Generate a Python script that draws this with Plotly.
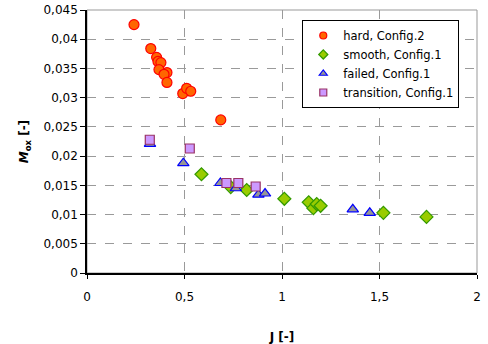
import plotly.graph_objects as go

hard_J = [0.241, 0.327, 0.357, 0.364, 0.379, 0.369, 0.410, 0.395, 0.410, 0.491, 0.511, 0.532, 0.686]
hard_M = [0.0425, 0.0384, 0.0369, 0.0362, 0.0360, 0.0348, 0.0343, 0.0340, 0.0326, 0.0307, 0.0316, 0.0311, 0.0262]

smooth_J = [0.587, 0.737, 0.819, 1.012, 1.137, 1.161, 1.178, 1.198, 1.520, 1.741]
smooth_M = [0.0169, 0.0147, 0.0142, 0.0127, 0.0121, 0.0111, 0.0118, 0.0115, 0.0103, 0.0096]

failed_J = [0.323, 0.494, 0.684, 0.763, 0.879, 0.913, 1.363, 1.450]
failed_M = [0.0221, 0.0188, 0.0154, 0.0145, 0.0134, 0.0136, 0.0109, 0.0103]

trans_J = [0.322, 0.527, 0.715, 0.776, 0.865]
trans_M = [0.0228, 0.0213, 0.0154, 0.0154, 0.0148]

x_ticks = [0, 0.5, 1, 1.5, 2]
y_ticks = [0, 0.005, 0.01, 0.015, 0.02, 0.025, 0.03, 0.035, 0.04, 0.045]

series = [
    ("hard, Config.2", hard_J, hard_M, "circle", 10, "#FF6600", "#FF0000"),
    ("smooth, Config.1", smooth_J, smooth_M, "diamond", 10, "#99CC00", "#339900"),
    ("failed, Config.1", failed_J, failed_M, "triangle-up", 10, "#969696", "#0000FF"),
    ("transition, Config.1", trans_J, trans_M, "square", 9, "#CC99FF", "#993366"),
]

fig = go.Figure()
for i, (name, xs, ys, sym, size, fill, edge) in enumerate(series):
    fig.add_trace(go.Scatter(x=xs, y=ys, mode="markers", name=name, showlegend=False,
                             marker=dict(symbol=sym, size=size, color=fill,
                                         line=dict(color=edge, width=1.2))))
for i, (name, xs, ys, sym, size, fill, edge) in enumerate(series):
    # legend-only entries with smaller symbols, as in the reference legend
    fig.add_trace(go.Scatter(x=[None], y=[None], mode="markers", name=name,
                             legendgroup=f"g{i}", showlegend=True,
                             marker=dict(symbol=sym, size=7, color=fill,
                                         line=dict(color=edge, width=1.2))))

fig.add_shape(type="rect", xref="paper", yref="paper", x0=0, x1=1, y0=0, y1=1,
              line=dict(color="#999999", width=1), layer="below")

fig.update_layout(
    width=488, height=344,
    margin=dict(l=87, r=11, t=10, b=71, autoexpand=False),
    paper_bgcolor="white", plot_bgcolor="white",
    separators=", ",
    font=dict(family="DejaVu Sans", size=12, color="black"),
    showlegend=True,
    legend=dict(x=0.552, y=0.962, xanchor="left", yanchor="top",
                bgcolor="white", bordercolor="black", borderwidth=1,
                font=dict(family="DejaVu Sans", size=11.5, color="black"),
                itemsizing="trace", tracegroupgap=10, traceorder="normal"),
    xaxis=dict(range=[0, 2], tickvals=x_ticks, showgrid=True, gridcolor="#9a9a9a",
               griddash="dash", gridwidth=1, showline=True, linecolor="black", linewidth=1.5,
               ticks="outside", ticklen=4, tickcolor="black", zeroline=False,
               ticklabelstandoff=8, automargin=False,
               title=dict(text="<b>J [-]</b>", font=dict(size=12), standoff=32)),
    yaxis=dict(range=[0, 0.045], tickvals=y_ticks, showgrid=True, gridcolor="#9a9a9a",
               griddash="dash", gridwidth=1, showline=True, linecolor="black", linewidth=1.5,
               ticks="outside", ticklen=5, tickcolor="black", zeroline=False,
               automargin=False,
               title=dict(text="<b><i>M</i><sub>ox</sub> [-]</b>", font=dict(size=12), standoff=12)),
)

fig.write_html("out.html")
